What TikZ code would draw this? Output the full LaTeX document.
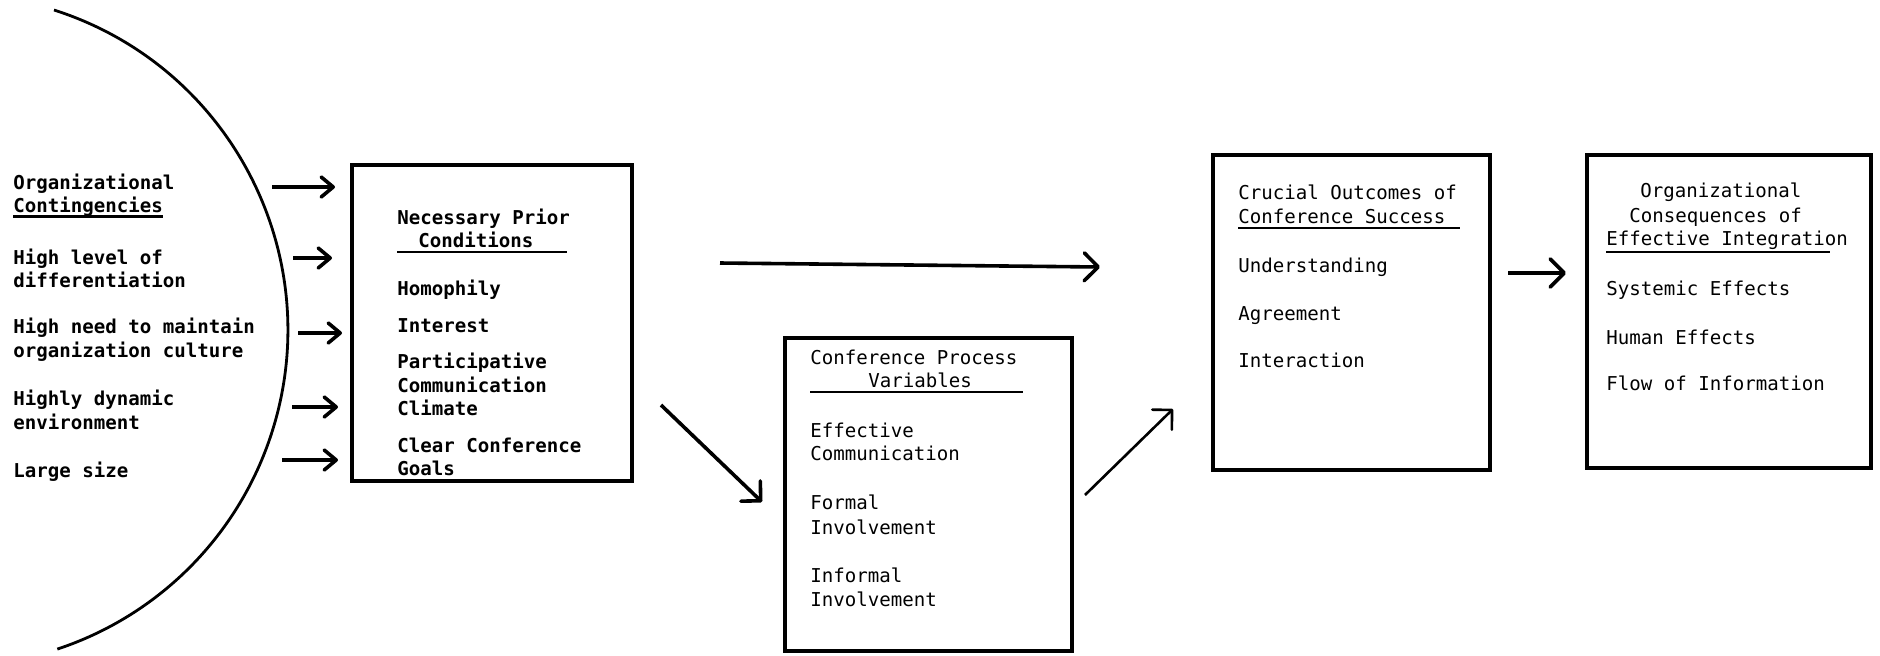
\documentclass[tikz,border=0pt]{standalone}
\usepackage{fontspec}
\setmonofont{DejaVu Sans Mono}
\usetikzlibrary{arrows.meta}

\tikzset{
  panel/.style={draw, line width=1.7pt, inner sep=0pt, outer sep=0pt},
  txt/.style={font={\ttfamily\fontsize{9.55pt}{11.75pt}\selectfont}, anchor=base west, inner sep=0pt},
  boldtxt/.style={txt, font={\ttfamily\bfseries\fontsize{9.55pt}{11.75pt}\selectfont}},
  underrule/.style={line width=1.3pt},
  feed/.style={line width=1.8pt, -{Straight Barb[length=6pt,width=10pt,round]}},
  bigfeed/.style={line width=1.8pt, -{Straight Barb[length=7pt,width=14pt,round]}},
}

\begin{document}
\begin{tikzpicture}[x=0.5pt, y=-0.5pt]
    \useasboundingbox (0,0) rectangle (1880,655);

    % Organizational boundary
    \draw[line width=1.4pt] (54,10) arc[start angle=72.3, end angle=-71.7, radius=168pt];

    % Organizational contingencies
    \foreach \t/\y [count=\i] in {Organizational/182, Contingencies/205, High level of/257, differentiation/280, High need to maintain/326, organization culture/350, Highly dynamic/398, environment/422, Large size/470}
        \node[boldtxt] (cont\i) at (13,\y+7) {\t};
    \draw[underrule] (cont2.south west) -- (cont2.south east);

    % Necessary prior conditions
    \node[panel, minimum width=140pt, minimum height=158pt] (prior) at (492,323) {};
    \foreach \t/\x/\y [count=\i] in {Necessary Prior/397/217, Conditions/418/240, Homophily/397/288, Interest/397/325, Participative/397/361, Communication/397/385, Climate/397/408, Clear Conference/397/445, Goals/397/468}
        \node[boldtxt] (prior\i) at (\x,\y+7) {\t};
    \draw[underrule] (397,252) -- (567,252);

    % Conference process variables
    \node[panel, minimum width=143.5pt, minimum height=156.5pt] (process) at (928.5,494.5) {};
    \foreach \t/\x/\y [count=\i] in {Conference Process/810/357, Variables/868/380, Effective/810/430, Communication/810/453, Formal/810/502, Involvement/810/527, Informal/810/575, Involvement/810/599}
        \node[txt] (process\i) at (\x,\y+7) {\t};
    \draw[underrule] (810,392) -- (1023,392);

    % Crucial outcomes
    \node[panel, minimum width=138.5pt, minimum height=157.5pt] (outcome) at (1351.5,312.5) {};
    \foreach \t/\y [count=\i] in {Crucial Outcomes of/192, Conference Success/216, Understanding/265, Agreement/313, Interaction/360}
        \node[txt] (outcome\i) at (1238,\y+7) {\t};
    \draw[underrule] (1238,228) -- (1460,228);

    % Organizational consequences
    \node[panel, minimum width=142pt, minimum height=156.5pt] (conseq) at (1729,311.5) {};
    \foreach \t/\x/\y [count=\i] in {Organizational/1640/190, Consequences of/1629/215, Effective Integration/1606/238, Systemic Effects/1606/288, Human Effects/1606/337, Flow of Information/1606/383}
        \node[txt] (conseq\i) at (\x,\y+7) {\t};
    \draw[underrule] (1606,252) -- (1830,252);

    % Contingencies feed the prior conditions
    \foreach \y/\xs/\g [count=\i] in {187/272/8.5pt, 258/293/10pt, 333/298/5pt, 407/292/7pt, 460/282/7pt}{
        \coordinate (in\i) at (\xs,\y);
        \draw[feed, shorten >=\g] (in\i) -- (in\i -| prior.west);
    }

    % Direct path to outcomes
    \coordinate (skipS) at (720,263);
    \coordinate (skipE) at (1100,267);
    \draw[bigfeed] (skipS) -- (skipE);

    % Through the conference process
    \coordinate (downS) at (661,405);
    \coordinate (downE) at (762,502);
    \draw[bigfeed] (downS) -- (downE);
    \coordinate (upS) at (1085,495);
    \coordinate (upE) at (1173,409);
    \draw[bigfeed, line width=1.3pt] (upS) -- (upE);

    % Outcomes lead to consequences
    \coordinate (outS) at (1508,273);
    \coordinate (outE) at (1566,273);
    \draw[bigfeed] (outS) -- (outE);
\end{tikzpicture}
\end{document}
